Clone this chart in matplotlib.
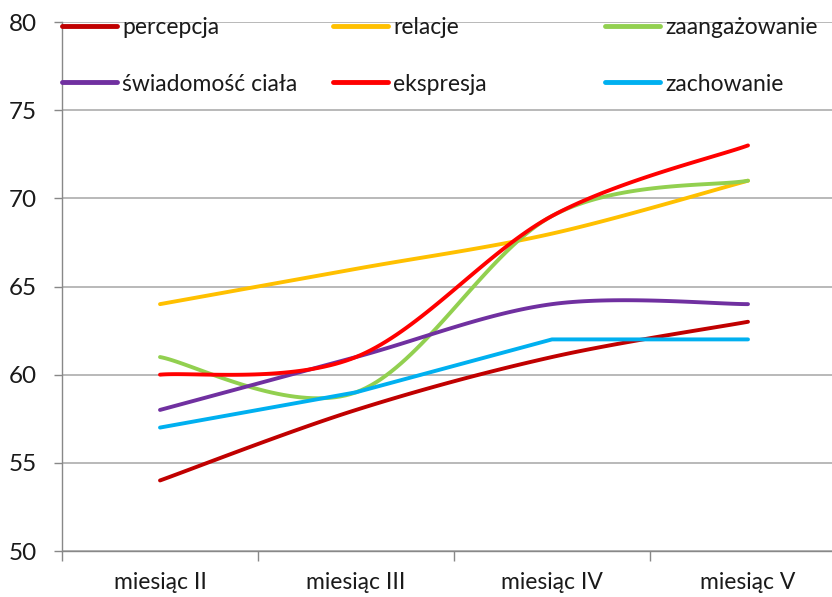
import numpy as np
import matplotlib
matplotlib.use("Agg")
import matplotlib.pyplot as plt
from matplotlib.lines import Line2D

categories = ["miesiąc II", "miesiąc III", "miesiąc IV", "miesiąc V"]
series_names = ["percepcja", "relacje", "zaangażowanie", "świadomość ciała", "ekspresja", "zachowanie"]
percepcja = [54, 58, 61, 63]
relacje = [64, 66, 68, 71]
zaangazowanie = [61, 59, 69, 71]
swiadomosc = [58, 61, 64, 64]
ekspresja = [60, 61, 69, 73]
zachowanie = [57, 59, 62, 62]
colors = ["#C00000", "#FFC000", "#92D050", "#7030A0", "#FF0000", "#00B0F0"]
smoothed = [True, True, True, True, True, False]
y_ticks = [50, 55, 60, 65, 70, 75, 80]

data = [percepcja, relacje, zaangazowanie, swiadomosc, ekspresja, zachowanie]

plt.rcParams['font.family'] = ['Lato', 'DejaVu Sans']


def smooth_curve(x, y, n=40):
    x = np.asarray(x, float)
    y = np.asarray(y, float)
    xe = np.concatenate([[x[0]], x, [x[-1]]])
    ye = np.concatenate([[y[0]], y, [y[-1]]])
    xs, ys = [], []
    t = np.linspace(0, 1, n)
    for i in range(len(x) - 1):
        p0x, p1x, p2x, p3x = xe[i], xe[i + 1], xe[i + 2], xe[i + 3]
        p0y, p1y, p2y, p3y = ye[i], ye[i + 1], ye[i + 2], ye[i + 3]
        c1x = p1x + (p2x - p0x) / 6
        c1y = p1y + (p2y - p0y) / 6
        c2x = p2x - (p3x - p1x) / 6
        c2y = p2y - (p3y - p1y) / 6
        bx = (1 - t) ** 3 * p1x + 3 * (1 - t) ** 2 * t * c1x + 3 * (1 - t) * t ** 2 * c2x + t ** 3 * p2x
        by = (1 - t) ** 3 * p1y + 3 * (1 - t) ** 2 * t * c1y + 3 * (1 - t) * t ** 2 * c2y + t ** 3 * p2y
        xs.extend(bx)
        ys.extend(by)
    return np.array(xs), np.array(ys)


fig = plt.figure(figsize=(8.32, 5.97), dpi=100)
ax = fig.add_axes([62 / 832, 1 - 551 / 597, (846 - 62) / 832, (551 - 22) / 597])

x = np.arange(len(categories))
for name, vals, col, sm in zip(series_names, data, colors, smoothed):
    if sm:
        xs, ys = smooth_curve(x, vals)
    else:
        xs, ys = x, np.asarray(vals, float)
    ax.plot(xs, ys, color=col, lw=2.8, solid_capstyle='round', solid_joinstyle='round', zorder=3)

ax.set_xlim(-0.5, len(categories) - 0.5)
ax.set_ylim(50, 80)
ax.set_yticks(y_ticks)
ax.set_yticklabels([str(v) for v in y_ticks])
ax.set_xticks(x)
ax.set_xticklabels(categories)
ax.set_xticks(np.arange(len(categories) + 1) - 0.5, minor=True)
ax.tick_params(axis='x', which='major', length=0, pad=15, labelsize=16.5, labelcolor='#1a1a1a')
ax.tick_params(axis='x', which='minor', length=7, width=1, color='#888888', direction='out')
ax.tick_params(axis='y', length=6, width=1, color='#888888', pad=12, labelsize=17.5, labelcolor='#1a1a1a')
ax.grid(axis='y', color='#A6A6A6', lw=1.1, zorder=0)
for s in ['top', 'right']:
    ax.spines[s].set_visible(False)
for s in ['left', 'bottom']:
    ax.spines[s].set_color('#888888')
    ax.spines[s].set_linewidth(1.0)

# legend: three columns placed individually
col_x = [62, 333, 605]
for c in range(3):
    idxs = [c, c + 3]
    handles = [Line2D([0], [0], color=colors[i], lw=3.5, solid_capstyle='round') for i in idxs]
    labels = [series_names[i] for i in idxs]
    leg = fig.legend(handles, labels, loc='upper left',
                     bbox_to_anchor=(col_x[c] / 832, 1 - 17 / 597),
                     frameon=False, fontsize=16.5, handlelength=2.4, handletextpad=0.22,
                     labelspacing=1.55, borderpad=0, borderaxespad=0, labelcolor='#1a1a1a')

fig.savefig("out.png", dpi=100)
